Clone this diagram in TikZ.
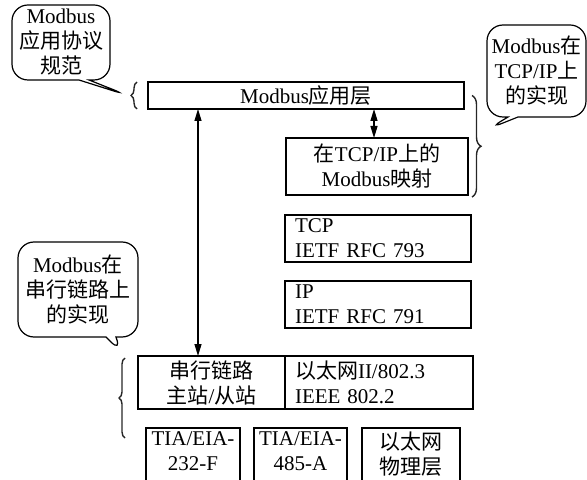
\documentclass[tikz,border=0pt]{standalone}
\usepackage{fontspec}
\setmainfont{Liberation Serif}
\newfontfamily\cjk{Noto Sans CJK SC}
\usetikzlibrary{arrows.meta, positioning, shapes.callouts, decorations.pathreplacing}

\begin{document}
\begin{tikzpicture}[x=0.5pt, y=-0.5pt, font=\fontsize{10.5}{12.5}\selectfont,
        box/.style={draw, line width=0.6pt, outer sep=0pt, inner sep=0pt, align=center},
        lbox/.style={box, align=left, inner xsep=5pt, text width=#1},
        note/.style={rectangle callout, draw, line width=0.6pt, rounded corners=8pt,
            align=center, inner sep=1pt, callout pointer width=5pt},
        brc/.style={draw=black!85, line width=0.7pt, decorate, decoration={brace, amplitude=#1}},
        dbl/.style={{Triangle[length=6pt,width=3.5pt]}-{Triangle[length=6pt,width=3.5pt]}, line width=0.6pt}]
        \useasboundingbox (0,0) rectangle (587,480);
        \clip (0,0) rectangle (587,480);

        \node[box, minimum width=158pt, minimum height=13.5pt]   (app)    at (306,95.5)    {Modbus{\cjk 应用层}};
        \node[box, minimum width=91pt, minimum height=28.5pt]    (map)    at (377,166.5)   {{\cjk 在}TCP/IP{\cjk 上的}\\Modbus{\cjk 映射}};
        \node[lbox=83pt, minimum height=23.5pt]                  (tcp)    at (378,238.5)   {TCP\\IETF RFC 793};
        \node[lbox=83pt, minimum height=23.5pt]                  (ip)     at (378,304.5)   {IP\\IETF RFC 791};
        \node[box, minimum width=73.5pt, minimum height=26.5pt]  (serial) at (211.5,382.5) {{\cjk 串行链路}\\{\cjk 主站}/{\cjk 从站}};
        \node[lbox=84pt, minimum height=26.5pt]                  (eth)    [right=0pt of serial] {{\cjk 以太网}II/802.3\\IEEE 802.2};
        \node[box, minimum width=47pt, anchor=north, inner ysep=2pt, text depth=16pt]   (rs232) at (193,428)   {TIA/EIA-\\232-F};
        \node[box, minimum width=46.5pt, anchor=north, inner ysep=2pt, text depth=16pt] (rs485) at (300.5,428) {TIA/EIA-\\485-A};
        \node[box, minimum width=49pt, anchor=north, inner ysep=2pt, text depth=16pt]   (phy)   at (411,428)   {{\cjk 以太网}\\{\cjk 物理层}};

        \draw[dbl] ([xshift=-6.75pt]serial.north) -- ([xshift=-6.75pt]serial.north |- app.south);
        \draw[dbl] ([xshift=-1.5pt]map.north) -- ([xshift=-1.5pt]map.north |- app.south);

        \draw[brc=3pt] ([xshift=-5.5pt]app.south west) -- ([xshift=-5.5pt]app.north west);
        \draw[brc=4.5pt] ([xshift=2pt]map.east |- app.east) -- ([xshift=2pt,yshift=-1pt]map.south east);
        \draw[brc=3pt] ([xshift=-6.5pt,yshift=-5pt]rs232.north -| serial.west) -- ([xshift=-6.5pt,yshift=-1pt]serial.north west);

        \node[note, minimum width=49pt, minimum height=37.5pt,
            callout absolute pointer={([xshift=-10pt]app.west)}]                 (specnote)   at (61,42.5)    {Modbus\\{\cjk 应用协议}\\{\cjk 规范}};
        \node[note, minimum width=60pt, minimum height=47.5pt,
            callout absolute pointer={([xshift=-8pt,yshift=1.5pt]serial.north west)}] (serialnote) at (78,289.5) {Modbus{\cjk 在}\\{\cjk 串行链路上}\\{\cjk 的实现}};
        \node[note, minimum width=49.5pt, minimum height=46pt,
            callout absolute pointer={([xshift=10pt,yshift=4.5pt]map.north east)}]   (tcpnote)    at (536.5,71)  {Modbus{\cjk 在}\\TCP/IP{\cjk 上}\\{\cjk 的实现}};
    \end{tikzpicture}
\end{document}
